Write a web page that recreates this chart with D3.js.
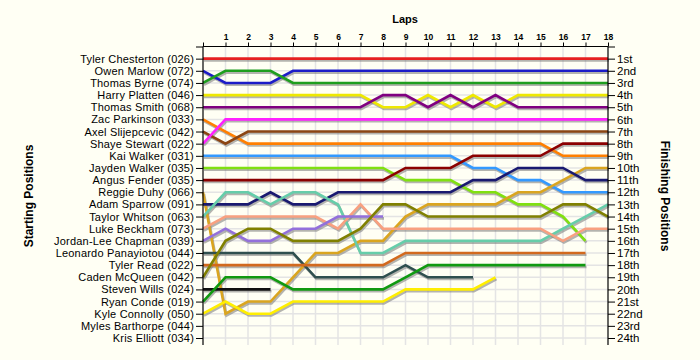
<!DOCTYPE html>
<html><head><meta charset="utf-8">
<script src="https://cdn.jsdelivr.net/npm/d3@7"></script>
<style>
html,body{margin:0;padding:0;background:#fffff4;}
svg{display:block;font-family:"Liberation Sans",Arial,sans-serif;}
</style></head>
<body>
<svg id="chart" width="700" height="360"></svg>
<script>
const drivers = ["Tyler Chesterton (026)","Owen Marlow (072)","Thomas Byrne (074)","Harry Platten (046)","Thomas Smith (068)","Zac Parkinson (033)","Axel Slijepcevic (042)","Shaye Stewart (022)","Kai Walker (031)","Jayden Walker (035)","Angus Fender (035)","Reggie Duhy (066)","Adam Sparrow (091)","Taylor Whitson (063)","Luke Beckham (073)","Jordan-Lee Chapman (039)","Leonardo Panayiotou (044)","Tyler Read (022)","Caden McQueen (042)","Steven Wills (024)","Ryan Conde (019)","Kyle Connolly (050)","Myles Barthorpe (044)","Kris Elliott (034)"];
const colors = ["#e62020","#1c1cc8","#1e9e1e","#eee800","#800080","#ff7f00","#8b4513","#ff20ff","#3399ff","#80e010","#8b0000","#daa520","#191970","#66cdaa","#f8a080","#9370db","#2f4f4f","#d2691e","#808000","#111111","#109910","#ffee00","#999999","#999999"];
const finishLabels = ["1st","2nd","3rd","4th","5th","6th","7th","8th","9th","10th","11th","12th","13th","14th","15th","16th","17th","18th","19th","20th","21st","22nd","23rd","24th"];
const lapTicks = [1,2,3,4,5,6,7,8,9,10,11,12,13,14,15,16,17,18];
// position of each driver after each lap (index 0 = start)
const pos01 = [1,1,1,1,1,1,1,1,1,1,1,1,1,1,1,1,1,1,1];
const pos02 = [2,3,3,3,2,2,2,2,2,2,2,2,2,2,2,2,2,2,2];
const pos03 = [3,2,2,2,3,3,3,3,3,3,3,3,3,3,3,3,3,3,3];
const pos04 = [4,4,4,4,4,4,4,4,5,5,4,5,4,5,4,4,4,4,4];
const pos05 = [5,5,5,5,5,5,5,5,4,4,5,4,5,4,5,5,5,5,5];
const pos06 = [6,7,8,8,8,8,8,8,8,8,8,8,8,8,8,8,9,9,9];
const pos07 = [7,8,7,7,7,7,7,7,7,7,7,7,7,7,7,7,7,7,7];
const pos08 = [8,6,6,6,6,6,6,6,6,6,6,6,6,6,6,6,6,6,6];
const pos09 = [9,9,9,9,9,9,9,9,9,9,9,9,10,10,11,11,12,12,12];
const pos10 = [10,10,10,10,10,10,10,10,10,11,11,11,12,12,13,13,14,16];
const pos11 = [11,11,11,11,11,11,11,11,11,10,10,10,9,9,9,9,8,8,8];
const pos12 = [12,22,21,21,19,17,17,16,16,14,13,13,13,13,12,12,11,10,10];
const pos13 = [13,13,13,12,13,13,12,12,12,12,12,12,11,11,10,10,10,11,11];
const pos14 = [14,12,12,13,12,12,13,17,17,16,16,16,16,16,16,16,15,14,13];
const pos15 = [15,14,14,14,14,14,15,13,15,15,15,15,15,15,15,15,16,15,15];
const pos16 = [16,15,16,16,15,15,14,14,14];
const pos17 = [17,17,17,17,17,19,19,19,19,18,19,19,19];
const pos18 = [18,18,18,18,18,18,18,18,18,17,17,17,17,17,17,17,17,17];
const pos19 = [19,16,15,15,16,16,16,15,13,13,14,14,14,14,14,14,13,13,14];
const pos20 = [20,20,20,20];
const pos21 = [21,19,19,19,20,20,20,20,20,19,18,18,18,18,18,18,18,18];
const pos22 = [22,21,22,22,21,21,21,21,21,20,20,20,20,19];
const pos23 = [];
const pos24 = [];
const positions = [pos01,pos02,pos03,pos04,pos05,pos06,pos07,pos08,pos09,pos10,pos11,pos12,pos13,pos14,pos15,pos16,pos17,pos18,pos19,pos20,pos21,pos22,pos23,pos24];

const svg = d3.select("#chart");
const L = 203, R = 608, T = 46.5, B = 345;
const x = d3.scaleLinear().domain([0,18]).range([L,R]);
const y = d3.scaleLinear().domain([0,24]).range([T,338]);

// grid
const grid = svg.append("g");
grid.selectAll("line.v").data(d3.range(1,18)).enter().append("line")
  .attr("x1",d=>x(d)).attr("x2",d=>x(d)).attr("y1",T).attr("y2",B)
  .attr("stroke","#e4e4e4").attr("stroke-width",1.5);
grid.selectAll("line.h").data(d3.range(1,25)).enter().append("line")
  .attr("x1",L).attr("x2",R).attr("y1",d=>y(d)).attr("y2",d=>y(d))
  .attr("stroke","#e4e4e4").attr("stroke-width",1.5);

const line = d3.line().x((d,i)=>x(i)).y(d=>y(d));
const series = positions.map((p,i)=>({p,c:colors[i]})).filter(s=>s.p.length>1);

svg.append("g").selectAll("path").data(series).enter().append("path")
  .attr("d",d=>line(d.p)).attr("fill","none").attr("stroke","#777").attr("stroke-opacity",0.55)
  .attr("stroke-width",2.6).attr("transform","translate(1,1.8)").attr("stroke-linejoin","miter");
svg.append("g").selectAll("path").data(series).enter().append("path")
  .attr("d",d=>line(d.p)).attr("fill","none").attr("stroke",d=>d.c)
  .attr("stroke-width",2.6).attr("stroke-linejoin","miter");

// axes
const yL = d3.axisLeft(y).tickValues(d3.range(0,25)).tickSize(7).tickPadding(2)
  .tickFormat(d=>d===0?"":drivers[d-1]);
const gL = svg.append("g").attr("transform",`translate(${L},0)`).call(yL);
const yR = d3.axisRight(y).tickValues(d3.range(0,25)).tickSize(7).tickPadding(2)
  .tickFormat(d=>d===0?"":finishLabels[d-1]);
const gR = svg.append("g").attr("transform",`translate(${R},0)`).call(yR);
const xT = d3.axisTop(x).tickValues(d3.range(0,19)).tickSize(4).tickPadding(3)
  .tickFormat(d=>lapTicks.includes(d)?d:"");
const gT = svg.append("g").attr("transform",`translate(0,${T})`).call(xT);
[gL,gR,gT].forEach(g=>{
  g.select(".domain").remove();
  g.selectAll(".tick line").attr("stroke","#000");
  g.selectAll("text").attr("fill","#000");
});
gL.selectAll("text").style("font-size","11px").style("letter-spacing","0.2px");
gR.selectAll("text").style("font-size","11.5px");
gT.selectAll("text").style("font-size","8.5px").style("font-weight","bold");
// axis lines
svg.append("line").attr("x1",L).attr("x2",L).attr("y1",T).attr("y2",B).attr("stroke","#000").attr("stroke-width",1.2);
svg.append("line").attr("x1",R).attr("x2",R).attr("y1",T).attr("y2",B).attr("stroke","#000").attr("stroke-width",1.2);
svg.append("line").attr("x1",L).attr("x2",R).attr("y1",T).attr("y2",T).attr("stroke","#000").attr("stroke-width",1.2);

svg.append("text").attr("x",405).attr("y",23).attr("text-anchor","middle")
  .style("font-size","11px").style("font-weight","bold").text("Laps");
svg.append("text").attr("transform","translate(33,196) rotate(-90)").attr("text-anchor","middle")
  .style("font-size","12px").style("font-weight","bold").text("Starting Positions");
svg.append("text").attr("transform","translate(661,196) rotate(90)").attr("text-anchor","middle")
  .style("font-size","12px").style("font-weight","bold").text("Finishing Positions");
</script>
</body></html>
